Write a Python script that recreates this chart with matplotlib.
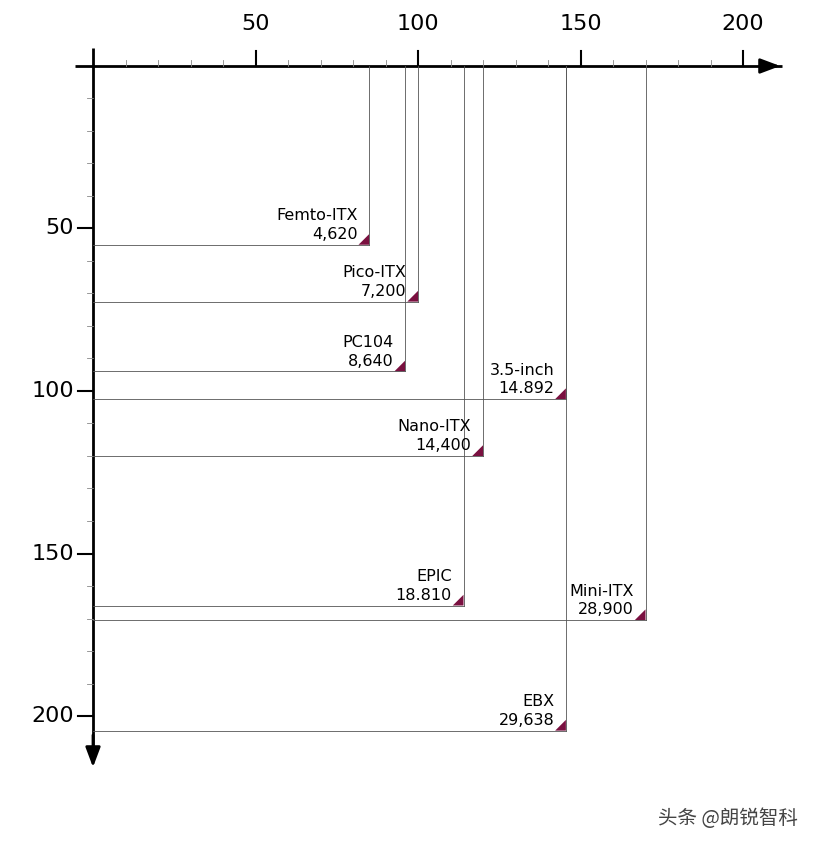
import matplotlib
matplotlib.use("Agg")
import matplotlib.pyplot as plt
from matplotlib.patches import Polygon

names = ["Femto-ITX", "Pico-ITX", "PC104", "3.5-inch", "Nano-ITX", "EPIC", "Mini-ITX", "EBX"]
widths = [85, 100, 96, 145.5, 120, 114, 170, 145.5]
heights = [55, 72.5, 94, 102.5, 120, 166, 170.5, 204.5]
areas = ["4,620", "7,200", "8,640", "14.892", "14,400", "18.810", "28,900", "29,638"]
major_ticks = [50, 100, 150, 200]

W, H = 816, 846
S = 3.25
ox, oy = 93, 66
fig = plt.figure(figsize=(W/100, H/100), dpi=100)
ax = fig.add_axes([0, 0, 1, 1])
ax.set_xlim(-ox/S, (W-ox)/S)
ax.set_ylim((H-oy)/S, -oy/S)
ax.axis("off")

ax.plot([-18/S, 212], [0, 0], color="black", lw=2, solid_capstyle="butt")
ax.annotate("", xy=((783-ox)/S, 0), xytext=(205, 0),
            arrowprops=dict(arrowstyle="-|>,head_length=1.2,head_width=0.45", color="black", lw=2))
ax.plot([0, 0], [-18/S, 212], color="black", lw=2, solid_capstyle="butt")
ax.annotate("", xy=(0, (770-oy)/S), xytext=(0, 205),
            arrowprops=dict(arrowstyle="-|>,head_length=1.2,head_width=0.45", color="black", lw=2))

for t in range(10, 211, 10):
    L = 15/S if t in major_ticks else 6/S
    lw = 1.5 if t in major_ticks else 0.6
    c = "black" if t in major_ticks else "#888888"
    if t <= 200:
        ax.plot([t, t], [0, -L], color=c, lw=lw)
    ax.plot([0, -L], [t, t], color=c, lw=lw)
for t in major_ticks:
    ax.text(t, -12/S - 6, str(t), ha="center", va="bottom", fontsize=16)
    ax.text(-16/S - 1, t, str(t), ha="right", va="center", fontsize=16)

for n, w, h, a in zip(names, widths, heights, areas):
    ax.plot([0, w], [h, h], color="#555555", lw=0.6)
    ax.plot([w, w], [0, h], color="#555555", lw=0.6)
    d = 3.3
    ax.add_patch(Polygon([(w, h), (w - d, h), (w, h - d)], closed=True,
                         facecolor="#7a1040", edgecolor="none"))
    ax.text(w - 3.6, h - 0.9, n + "\n" + a, ha="right", va="bottom",
            fontsize=11.5, linespacing=1.3)

ax.text(798/S - ox/S, (818-oy)/S, "头条 @朗锐智科", ha="right", va="center",
        fontsize=14, color="#444444", family=["Noto Sans CJK SC", "DejaVu Sans"])

fig.savefig("out.png", dpi=100)
